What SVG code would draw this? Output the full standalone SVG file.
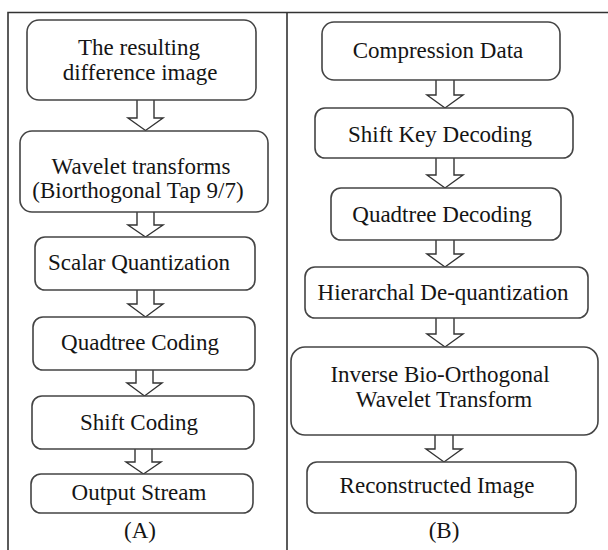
<svg xmlns="http://www.w3.org/2000/svg" width="608" height="550" viewBox="0 0 608 550">
<style>
.frame{fill:none;stroke:#333;stroke-width:1.6}
.box{fill:#fff;stroke:#444;stroke-width:1.6}
.arr{fill:#fff;stroke:#333;stroke-width:1.4;stroke-linejoin:miter}
text{font-family:"Liberation Serif","Times New Roman",serif;font-size:23px;fill:#151515;text-anchor:middle}
</style>
<rect width="608" height="550" fill="#fff"/>
<g id="frame">
<path class="frame" d="M8,550 V12.5 H608 M287,12.5 V550"/>
</g>
<g id="connectors">
<path class="arr" d="M137,100 V118 H128 L145.5,130.5 L163,118 H154 V100"/>
<path class="arr" d="M137,212 V225 H128 L145.5,237 L163,225 H154 V212"/>
<path class="arr" d="M137,290 V304 H128 L145.5,317 L163,304 H154 V290"/>
<path class="arr" d="M136,370 V383 H127 L144.5,396 L162,383 H153 V370"/>
<path class="arr" d="M135,449 V462 H126 L143.5,474 L161,462 H152 V449"/>
<path class="arr" d="M436,80 V95 H427 L445,108 L463,95 H454 V80"/>
<path class="arr" d="M436,158 V175 H427 L445,188 L463,175 H454 V158"/>
<path class="arr" d="M436,240 V254 H427 L445,267 L463,254 H454 V240"/>
<path class="arr" d="M436,318 V334 H427 L445,347 L463,334 H454 V318"/>
<path class="arr" d="M435,435 V449 H426 L444,462 L462,449 H453 V435"/>
</g>
<g id="a1"><rect class="box" x="27" y="20" width="229" height="80" rx="12"/><text x="139" y="55">The resulting</text><text x="140" y="80">difference image</text></g>
<g id="a2"><rect class="box" x="20" y="131" width="248" height="81" rx="12"/><text x="141" y="174">Wavelet transforms</text><text x="138" y="198">(Biorthogonal Tap 9/7)</text></g>
<g id="a3"><rect class="box" x="35" y="237" width="220" height="53" rx="10"/><text x="139" y="270">Scalar Quantization</text></g>
<g id="a4"><rect class="box" x="33" y="317" width="222" height="53" rx="10"/><text x="140" y="350">Quadtree Coding</text></g>
<g id="a5"><rect class="box" x="32" y="396" width="222" height="53" rx="10"/><text x="139" y="430">Shift Coding</text></g>
<g id="a6"><rect class="box" x="31" y="474" width="222" height="39" rx="10"/><text x="139" y="500">Output Stream</text></g>
<g id="labelA"><text x="140" y="538">(A)</text></g>
<g id="b1"><rect class="box" x="322" y="22" width="238" height="58" rx="12"/><text x="438" y="58">Compression Data</text></g>
<g id="b2"><rect class="box" x="315" y="108" width="258" height="50" rx="10"/><text x="440" y="142">Shift Key Decoding</text></g>
<g id="b3"><rect class="box" x="331" y="188" width="230" height="52" rx="10"/><text x="442" y="222">Quadtree Decoding</text></g>
<g id="b4"><rect class="box" x="305" y="267" width="283" height="51" rx="10"/><text x="443" y="300">Hierarchal De-quantization</text></g>
<g id="b5"><rect class="box" x="291" y="347" width="307" height="88" rx="14"/><text x="440" y="382">Inverse Bio-Orthogonal</text><text x="444" y="407">Wavelet Transform</text></g>
<g id="b6"><rect class="box" x="307" y="462" width="269" height="51" rx="10"/><text x="437" y="493">Reconstructed Image</text></g>
<g id="labelB"><text x="444" y="538">(B)</text></g>
</svg>
